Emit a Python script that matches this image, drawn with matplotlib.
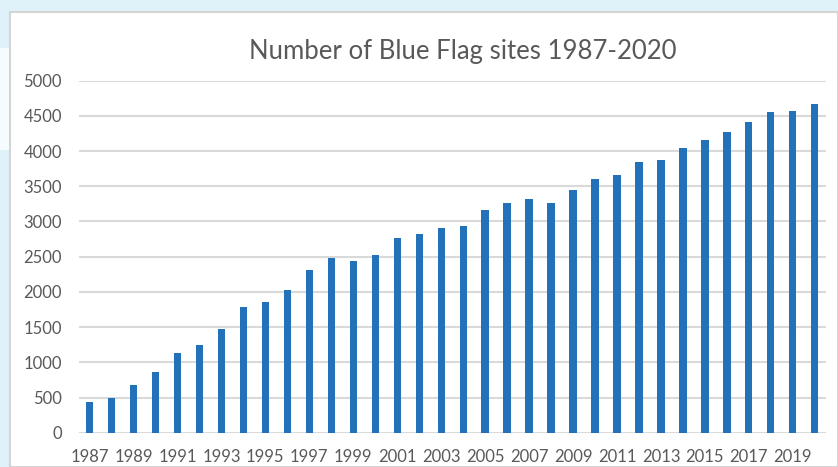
import matplotlib
matplotlib.use("Agg")
import matplotlib.pyplot as plt
from matplotlib.patches import Rectangle

years = list(range(1987, 2021))
sites = [440, 489, 677, 857, 1136, 1241, 1468, 1785, 1861, 2027,
         2306, 2481, 2434, 2524, 2761, 2827, 2903, 2941, 3159, 3258,
         3324, 3258, 3447, 3604, 3656, 3845, 3874, 4049, 4153, 4266,
         4414, 4556, 4570, 4673]
yticks = [0, 500, 1000, 1500, 2000, 2500, 3000, 3500, 4000, 4500, 5000]
title = "Number of Blue Flag sites 1987-2020"

W, H = 838, 467
plt.rcParams['font.family'] = ['Lato', 'DejaVu Sans']
fig = plt.figure(figsize=(W / 100, H / 100), dpi=100)
fig.patch.set_facecolor('#DFF1F9')

def fx(px):
    return px / W

def fy(py):
    return 1 - py / H

# white chart area with gray border
fig.patches.append(Rectangle((fx(10), 0), 1 - fx(10), fy(12), transform=fig.transFigure,
                             facecolor='white', edgecolor='#D4D4D4', linewidth=1.5, zorder=-2))
# lighter strip on left edge
fig.patches.append(Rectangle((0, fy(150)), fx(9), fy(48) - fy(150), transform=fig.transFigure,
                             facecolor='#F6FBFD', edgecolor='none', zorder=-2))

ax = fig.add_axes([fx(78.5), fy(432.7), fx(825.8) - fx(78.5), fy(80.7) - fy(432.7)])
ax.set_facecolor('none')
ax.set_zorder(1)
x = list(range(len(years)))
ax.bar(x, sites, width=0.33, color='#2371B9', zorder=3)
ax.set_xlim(-0.5, len(years) - 0.5)
ax.set_ylim(0, 5000)
ax.set_yticks(yticks)
ax.set_yticklabels([str(v) for v in yticks])
ax.set_xticks(x[::2])
ax.set_xticklabels([str(y) for y in years[::2]])
ax.grid(axis='y', color='#D9D9D9', linewidth=1.5, zorder=0)
for s in ax.spines.values():
    s.set_visible(False)
ax.tick_params(axis='both', length=0, colors='#595959', labelsize=12)
ax.tick_params(axis='y', pad=12)
ax.tick_params(axis='x', pad=12)

fig.text(fx(462.5), fy(59), title, ha='center', va='baseline', fontsize=18.5, color='#595959')

fig.savefig('out.png', dpi=100, facecolor=fig.get_facecolor())
